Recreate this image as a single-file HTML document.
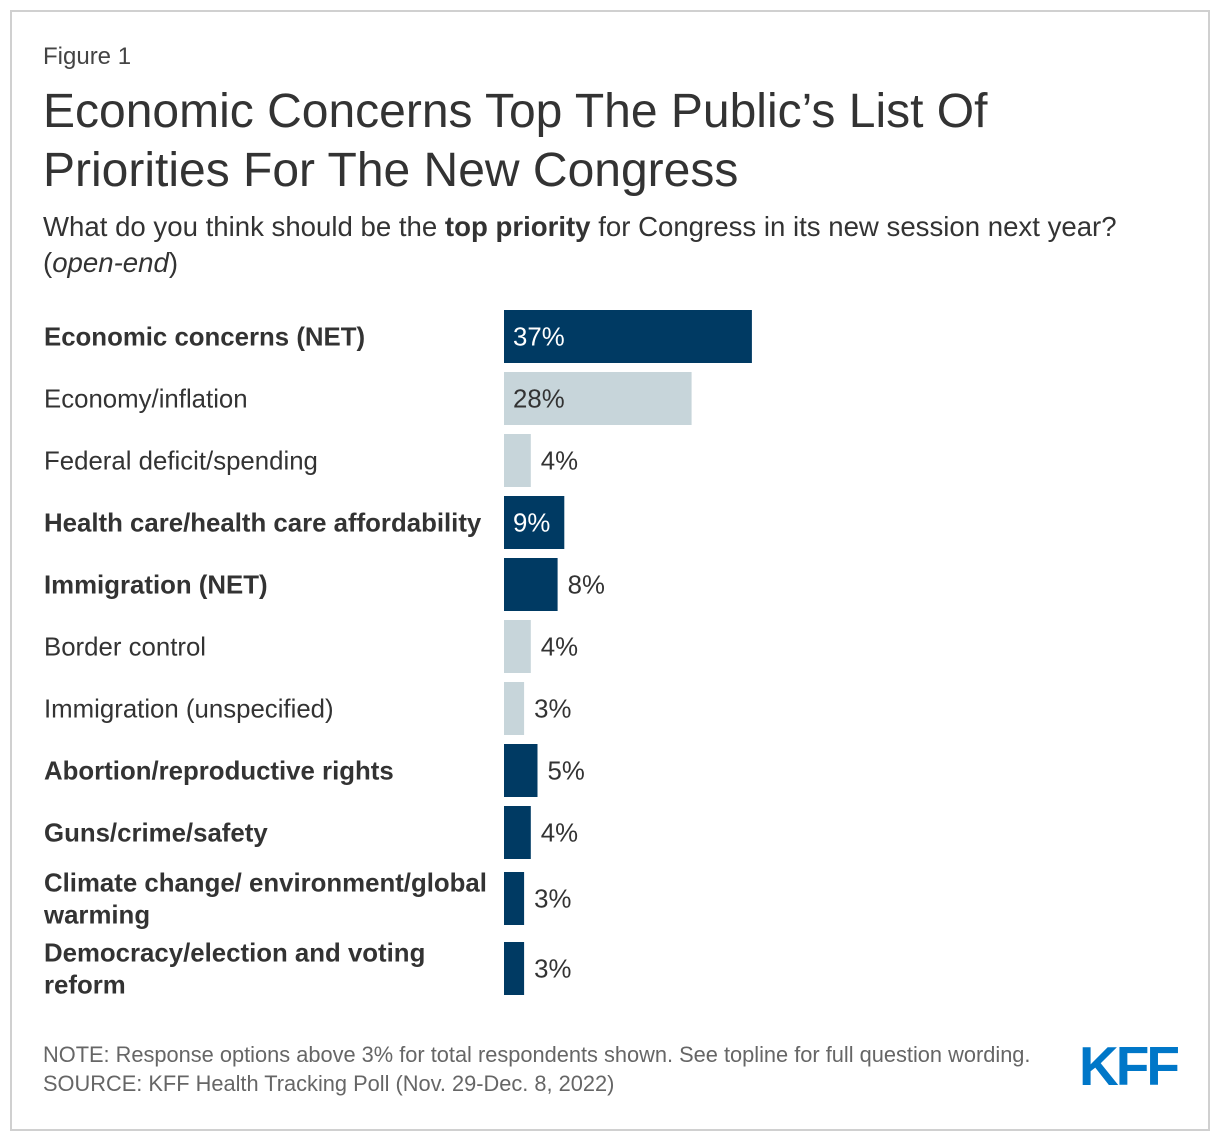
<!DOCTYPE html>
<html><head><meta charset="utf-8"><style>
body{margin:0;width:1220px;height:1142px;background:#fff;font-family:"Liberation Sans",Arial,sans-serif;overflow:hidden;position:relative}
.frame{position:absolute;left:10px;top:10px;width:1196px;height:1117px;border:2px solid #d0d0d0}
.t{position:absolute;left:43px;color:#333;white-space:nowrap}
</style></head><body>
<div class="frame"></div>
<div class="t" style="top:43px;font-size:24px;color:#444">Figure 1</div>
<div class="t" style="top:82px;font-size:48px;line-height:59px;color:#333">Economic Concerns Top The Public’s List Of<br>Priorities For The New Congress</div>
<div class="t" style="top:209px;font-size:27.6px;line-height:36px;color:#333">What do you think should be the <b>top priority</b> for Congress in its new session next year?<br>(<i>open-end</i>)</div>
<svg id="chart" style="position:absolute;left:0;top:0" width="1220" height="1142"></svg>
<div class="t" style="top:1040px;font-size:21.8px;line-height:29px;color:#666">NOTE: Response options above 3% for total respondents shown. See topline for full question wording.<br>SOURCE: KFF Health Tracking Poll (Nov. 29-Dec. 8, 2022)</div>
<div style="position:absolute;left:1079px;top:1034px;font-size:55px;font-weight:bold;color:#0077c8;letter-spacing:-3px;font-family:'Liberation Sans',sans-serif">KFF</div>
<script>
const categories=["Economic concerns (NET)","Economy/inflation","Federal deficit/spending","Health care/health care affordability","Immigration (NET)","Border control","Immigration (unspecified)","Abortion/reproductive rights","Guns/crime/safety","Climate change/ environment/global|warming","Democracy/election and voting|reform"];
const values=[37,28,4,9,8,4,3,5,4,3,3];
const isNet=[true,false,false,true,true,false,false,true,true,true,true];
const svg=document.getElementById('chart');
const NS='http://www.w3.org/2000/svg';
const x0=504,scale=6.7;
function xw(v){return v*scale;}
let y=310;
categories.forEach((c,i)=>{
  const lines=c.split('|');
  if(lines.length>1 && i>0 && categories[i-1].indexOf('|')<0) y+=4;
  const h=53;
  const bar=document.createElementNS(NS,'rect');
  bar.setAttribute('x',x0);bar.setAttribute('y',y);bar.setAttribute('width',xw(values[i]));bar.setAttribute('height',h);
  bar.setAttribute('fill',isNet[i]?'#003a63':'#c7d5da');
  
  
  svg.appendChild(bar);
  const cy=y+h/2;
  const lab=document.createElementNS(NS,'text');
  lab.setAttribute('x',44);lab.setAttribute('font-size','25.8');lab.setAttribute('fill','#333');
  if(isNet[i])lab.setAttribute('font-weight','bold');
  lines.forEach((l,j)=>{const ts=document.createElementNS(NS,'tspan');ts.setAttribute('x',44);ts.setAttribute('y',cy+9+(j-(lines.length-1)/2)*32);ts.textContent=l;lab.appendChild(ts);});
  
  
  svg.appendChild(lab);
  const w=xw(values[i]);
  const inside=w>56;
  const vl=document.createElementNS(NS,'text');
  vl.setAttribute('x',inside?x0+9:x0+w+10);vl.setAttribute('y',cy+9);vl.setAttribute('font-size','25.8');
  vl.setAttribute('fill',inside?(isNet[i]?'#fff':'#333'):'#333');
  vl.textContent=values[i]+'%';
  
  
  svg.appendChild(vl);
  y+=lines.length>1?70:62;
});
</script>
</body></html>
